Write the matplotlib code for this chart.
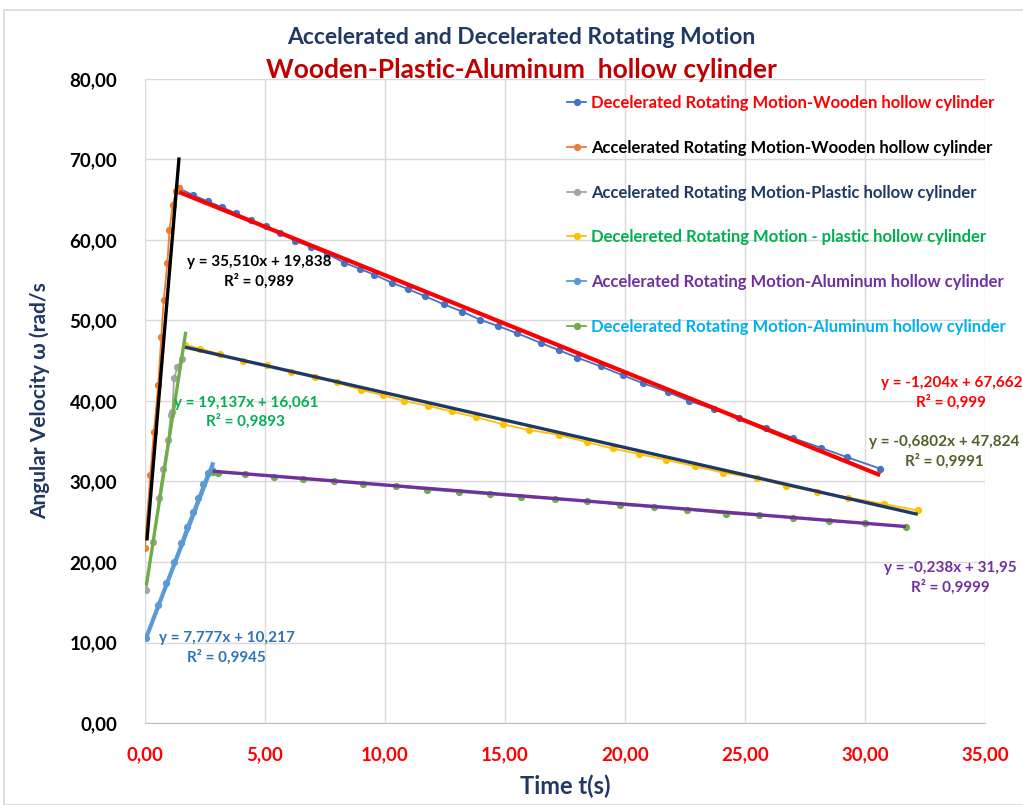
"""Angular velocity vs time for wooden / plastic / aluminum hollow cylinders,
accelerated and decelerated runs, with linear trendlines."""
import matplotlib
matplotlib.use("Agg")
import matplotlib.pyplot as plt
from matplotlib.lines import Line2D
from matplotlib.patches import Rectangle
import numpy as np

plt.rcParams["font.family"] = ["Lato", "DejaVu Sans"]
plt.rcParams["font.weight"] = "bold"

# ---- data (t in s, w in rad/s) ----
wood_acc_t = [0.0, 0.22, 0.37, 0.55, 0.68, 0.78, 0.93, 1.02, 1.15, 1.30, 1.42]
wood_acc_w = [21.8, 30.8, 36.1, 42.0, 48.0, 52.5, 57.1, 61.2, 64.3, 66.1, 66.5]

wood_dec_t = [1.42, 1.99, 2.61, 3.19, 3.79, 4.40, 5.03, 5.63, 6.26, 6.93, 7.57,
              8.29, 8.96, 9.55, 10.28, 10.96, 11.68, 12.46, 13.22, 13.96, 14.72,
              15.52, 16.50, 17.26, 18.00, 18.99, 19.90, 20.76, 21.80, 22.68,
              23.70, 24.76, 25.87, 27.00, 28.15, 29.27, 30.63]
wood_dec_w = [66.4, 65.6, 64.8, 64.1, 63.3, 62.5, 61.7, 60.9, 59.9, 59.1, 58.3,
              57.2, 56.4, 55.7, 54.7, 53.9, 53.0, 52.0, 51.1, 50.1, 49.3,
              48.4, 47.2, 46.3, 45.4, 44.3, 43.2, 42.2, 41.1, 40.0,
              39.0, 37.9, 36.7, 35.4, 34.2, 33.0, 31.6]

plas_acc_t = [0.05, 0.35, 0.58, 0.76, 0.97, 1.07, 1.14, 1.21, 1.35, 1.53]
plas_acc_w = [16.5, 22.5, 27.9, 31.5, 35.2, 38.3, 38.6, 42.8, 44.2, 45.2]

plas_dec_t = [1.67, 2.29, 3.13, 4.10, 5.10, 6.10, 7.08, 7.99, 8.99, 9.93, 10.80,
              11.78, 12.78, 13.79, 14.93, 16.00, 17.25, 18.40, 19.50, 20.60,
              21.70, 22.90, 24.10, 25.50, 26.70, 28.00, 29.30, 30.80, 32.20]
plas_dec_w = [47.0, 46.5, 45.8, 45.0, 44.5, 43.6, 43.0, 42.3, 41.4, 40.7, 40.0,
              39.4, 38.7, 38.0, 37.1, 36.4, 35.8, 34.9, 34.1, 33.4,
              32.7, 31.9, 31.1, 30.4, 29.5, 28.7, 28.0, 27.2, 26.4]

alu_acc_t = [0.05, 0.55, 0.88, 1.21, 1.50, 1.74, 1.99, 2.22, 2.43, 2.61, 2.78]
alu_acc_w = [10.6, 14.6, 17.4, 20.0, 22.3, 24.4, 26.2, 28.0, 29.7, 31.0, 31.4]

alu_dec_t = [2.82, 3.05, 4.17, 5.39, 6.60, 7.89, 9.10, 10.45, 11.74, 13.10,
             14.38, 15.65, 17.08, 18.40, 19.80, 21.20, 22.60, 24.20, 25.60,
             27.00, 28.50, 30.00, 31.70]
alu_dec_w = [31.2, 31.1, 30.9, 30.6, 30.3, 30.0, 29.7, 29.4, 29.0, 28.7,
             28.4, 28.1, 27.8, 27.6, 27.1, 26.8, 26.5, 26.0, 25.8,
             25.5, 25.1, 24.8, 24.4]

# trendline coefficients as printed on the chart (slope, intercept)
fit_slopes = [-1.204, 35.510, 19.137, -0.6802, 7.777, -0.238]
fit_intercepts = [67.662, 19.838, 16.061, 47.824, 10.217, 31.95]
fit_ranges = [(1.42, 30.63), (0.08, 1.42), (0.05, 1.70), (1.67, 32.2),
              (0.05, 2.85), (2.82, 31.7)]
fit_labels = ["y = -1,204x + 67,662\nR² = 0,999",
              "y = 35,510x + 19,838\nR² = 0,989",
              "y = 19,137x + 16,061\nR² = 0,9893",
              "y = -0,6802x + 47,824\nR² = 0,9991",
              "y = 7,777x + 10,217\nR² = 0,9945",
              "y = -0,238x + 31,95\nR² = 0,9999"]
fit_label_xy = [(33.6, 41.0), (4.75, 56.0), (4.2, 38.6), (33.3, 33.7),
                (3.4, 9.3), (33.55, 18.0)]

series_names = ["Decelerated Rotating Motion-Wooden hollow cylinder",
                "Accelerated Rotating Motion-Wooden hollow cylinder",
                "Accelerated Rotating Motion-Plastic hollow cylinder",
                "Decelereted Rotating Motion - plastic hollow cylinder",
                "Accelerated Rotating Motion-Aluminum hollow cylinder",
                "Decelerated Rotating Motion-Aluminum hollow cylinder"]
series_t = [wood_dec_t, wood_acc_t, plas_acc_t, plas_dec_t, alu_acc_t, alu_dec_t]
series_w = [wood_dec_w, wood_acc_w, plas_acc_w, plas_dec_w, alu_acc_w, alu_dec_w]

marker_colors = ["#4472C4", "#ED7D31", "#A5A5A5", "#FFC000", "#5B9BD5", "#70AD47"]
trend_colors = ["#FF0000", "#000000", "#70AD47", "#1F3864", "#5B9BD5", "#7030A0"]
trend_widths = [3.0, 2.4, 2.4, 2.4, 3.0, 2.4]
legend_text_colors = ["#FF0000", "#000000", "#1F3864", "#00B050", "#7030A0", "#00B0F0"]
fit_text_colors = ["#FF0000", "#000000", "#00B050", "#4F6228", "#2E75B6", "#7030A0"]

fig = plt.figure(figsize=(10.23, 8.05), dpi=100)
fig.patches.append(Rectangle((4 / 1023, 0), 1.2, 795 / 805, transform=fig.transFigure,
                             fill=False, edgecolor="#D9D9D9", lw=1.2))
ax = fig.add_axes([145 / 1023, 82 / 805, 840 / 1023, 644 / 805])

for t, w, c in zip(series_t, series_w, marker_colors):
    ax.plot(t, w, color=c, lw=1.3, marker="o", ms=4.2, zorder=3)

for k in range(6):
    x0, x1 = fit_ranges[k]
    xs = np.array([x0, x1])
    ax.plot(xs, fit_slopes[k] * xs + fit_intercepts[k], color=trend_colors[k],
            lw=trend_widths[k], zorder=4, solid_capstyle="butt")
    ax.text(fit_label_xy[k][0], fit_label_xy[k][1], fit_labels[k], color=fit_text_colors[k],
            fontsize=11, fontweight="bold", ha="center", va="center",
            linespacing=1.35, clip_on=False, zorder=5)

ax.set_xlim(0, 35)
ax.set_ylim(0, 80)
xt = np.arange(0, 36, 5)
yt = np.arange(0, 81, 10)
ax.set_xticks(xt)
ax.set_yticks(yt)
ax.set_xticklabels([("%.2f" % v).replace(".", ",") for v in xt],
                   color="#FF0000", fontsize=13.5, fontweight="bold")
ax.set_yticklabels([("%.2f" % v).replace(".", ",") for v in yt],
                   color="#000000", fontsize=13.5, fontweight="bold")
ax.tick_params(axis="x", length=0, pad=17)
ax.tick_params(axis="y", length=0, pad=20)
ax.grid(True, color="#D9D9D9", lw=1)
ax.set_axisbelow(True)
for s in ["left", "top", "right"]:
    ax.spines[s].set_visible(False)
ax.spines["bottom"].set_color("#BFBFBF")

ax.set_xlabel("Time t(s)", color="#1F3864", fontsize=17, fontweight="bold", labelpad=8)
ax.set_ylabel("Angular Velocity ω (rad/s", color="#1F3864", fontsize=15,
              fontweight="bold", labelpad=14)

fig.text(521 / 1023, 1 - 37 / 805, "Accelerated and Decelerated Rotating Motion",
         color="#1F3864", fontsize=16.5, fontweight="bold", ha="center", va="center")
fig.text(521 / 1023, 1 - 70 / 805, "Wooden-Plastic-Aluminum  hollow cylinder",
         color="#C00000", fontsize=19, fontweight="bold", ha="center", va="center")

handles = [Line2D([0], [0], color=c, lw=1.3, marker="o", ms=4.2) for c in marker_colors]
leg = ax.legend(handles, series_names, loc="upper left", bbox_to_anchor=(0.495, 0.985),
                frameon=False, fontsize=12, handlelength=1.1, handletextpad=0.3,
                labelspacing=1.72, borderaxespad=0)
for txt, c in zip(leg.get_texts(), legend_text_colors):
    txt.set_color(c)
    txt.set_fontweight("bold")

fig.savefig("out.png", dpi=100)
